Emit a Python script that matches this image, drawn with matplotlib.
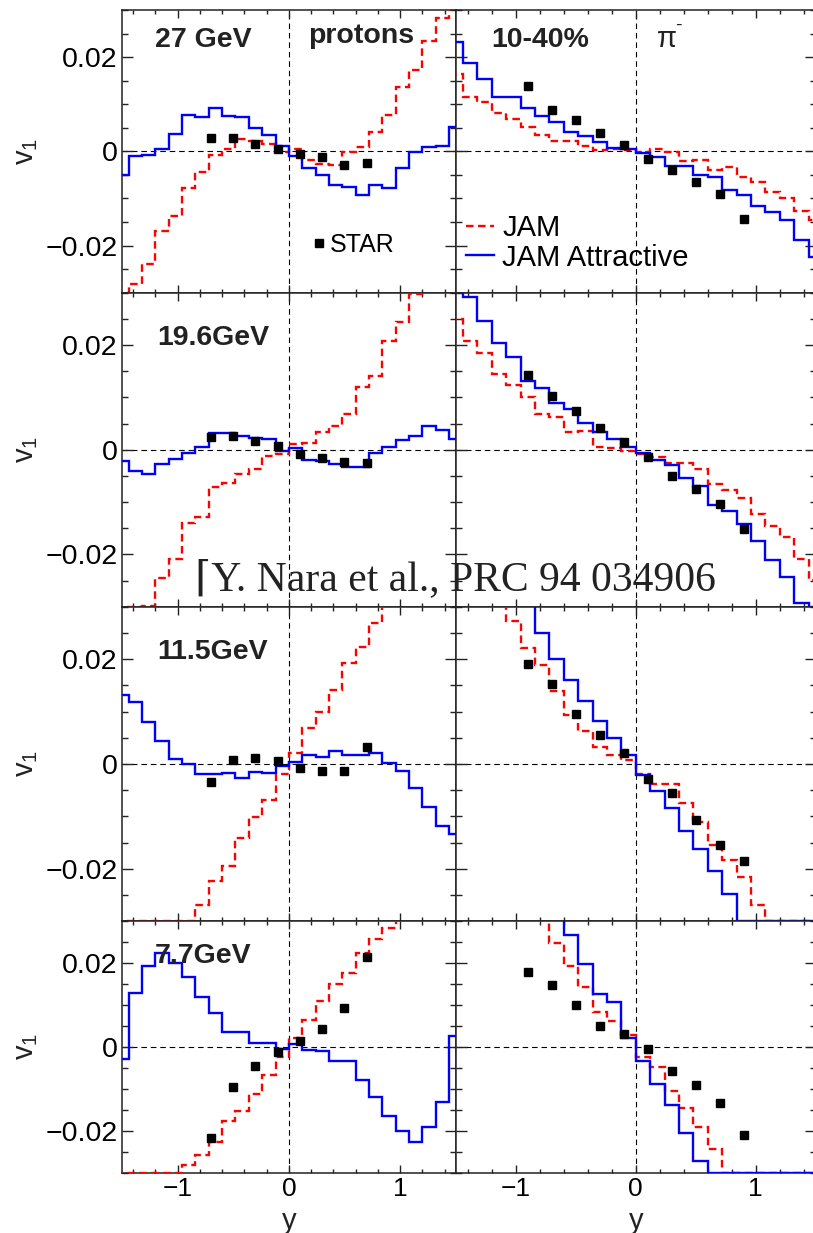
import numpy as np
import matplotlib.pyplot as plt
from matplotlib.lines import Line2D
from matplotlib.ticker import MultipleLocator, FixedLocator, FixedFormatter

plt.rcParams['font.family'] = ['Liberation Sans', 'DejaVu Sans']
plt.rcParams['mathtext.default'] = 'regular'

# bin edges of the model histograms (rapidity y)
edges = np.linspace(-1.56, 1.56, 27)
y_prot = [-0.7, -0.5, -0.3, -0.1, 0.1, 0.3, 0.5, 0.7]
y_pion = [-0.9, -0.7, -0.5, -0.3, -0.1, 0.1, 0.3, 0.5, 0.7, 0.9]

energies = ['27 GeV', '19.6GeV', '11.5GeV', '7.7GeV']

# ---- 27 GeV
jam_p27 = [-0.0300, -0.0282, -0.0239, -0.0170, -0.0137, -0.0078, -0.0044, -0.0007, 0.0004, 0.0027,
           0.0023, 0.0016, -0.0001, 0.0004, -0.0019, -0.0026, -0.0028, -0.0001, 0.0009, 0.0042,
           0.0078, 0.0137, 0.0172, 0.0234, 0.0282, 0.0310]
att_p27 = [-0.0051, -0.0010, -0.0008, 0.0004, 0.0037, 0.0078, 0.0073, 0.0093, 0.0074, 0.0072,
           0.0050, 0.0034, 0.0012, -0.0010, -0.0035, -0.0051, -0.0072, -0.0075, -0.0093, -0.0071,
           -0.0078, -0.0036, -0.0002, 0.0009, 0.0012, 0.0051]
star_p27 = [0.0029, 0.0029, 0.0016, 0.0005, -0.0005, -0.0013, -0.0028, -0.0025]
jam_pi27 = [0.0165, 0.0115, 0.0105, 0.0081, 0.0069, 0.0052, 0.0034, 0.0021, 0.0023, 0.0011,
            0.0002, 0.0006, 0.0002, -0.0001, 0.0004, -0.0001, -0.0021, -0.0019, -0.0039, -0.0033,
            -0.0054, -0.0065, -0.0086, -0.0100, -0.0127, -0.0146]
att_pi27 = [0.0232, 0.0188, 0.0154, 0.0115, 0.0115, 0.0091, 0.0075, 0.0062, 0.0041, 0.0033,
            0.0020, 0.0007, 0.0004, -0.0003, -0.0012, -0.0031, -0.0031, -0.0051, -0.0054, -0.0083,
            -0.0093, -0.0115, -0.0129, -0.0146, -0.0189, -0.0224]
star_pi27 = [0.0139, 0.0088, 0.0067, 0.0038, 0.0014, -0.0016, -0.0039, -0.0066, -0.0091, -0.0144]

# ---- 19.6 GeV
jam_p19 = [-0.0310, -0.0310, -0.0299, -0.0246, -0.0208, -0.0141, -0.0128, -0.0072, -0.0063, -0.0047,
           -0.0036, -0.0012, -0.0009, 0.0010, 0.0013, 0.0034, 0.0046, 0.0069, 0.0119, 0.0140,
           0.0208, 0.0244, 0.0297, 0.0320, 0.0340, 0.0350]
att_p19 = [-0.0022, -0.0040, -0.0046, -0.0027, -0.0017, -0.0006, 0.0005, 0.0032, 0.0032, 0.0026,
           0.0022, 0.0021, -0.0003, 0.0004, -0.0020, -0.0022, -0.0028, -0.0033, -0.0034, -0.0006,
           0.0005, 0.0018, 0.0026, 0.0046, 0.0038, 0.0020]
star_p19 = [0.0024, 0.0026, 0.0017, 0.0007, -0.0008, -0.0016, -0.0024, -0.0025]
jam_pi19 = [0.0250, 0.0207, 0.0184, 0.0145, 0.0124, 0.0100, 0.0069, 0.0062, 0.0034, 0.0036,
            0.0006, 0.0004, -0.0003, -0.0009, -0.0014, -0.0025, -0.0025, -0.0037, -0.0066, -0.0077,
            -0.0092, -0.0122, -0.0146, -0.0166, -0.0208, -0.0249]
att_pi19 = [0.0330, 0.0292, 0.0246, 0.0203, 0.0178, 0.0132, 0.0118, 0.0090, 0.0078, 0.0051,
            0.0034, 0.0021, 0.0005, -0.0006, -0.0020, -0.0030, -0.0055, -0.0070, -0.0106, -0.0117,
            -0.0142, -0.0174, -0.0211, -0.0244, -0.0293, -0.0310]
star_pi19 = [0.0143, 0.0103, 0.0073, 0.0042, 0.0015, -0.0014, -0.0050, -0.0076, -0.0103, -0.0152]

# ---- 11.5 GeV
jam_p11 = [-0.0310, -0.0310, -0.0310, -0.0310, -0.0310, -0.0310, -0.0269, -0.0224, -0.0195, -0.0141,
           -0.0101, -0.0069, -0.0020, 0.0020, 0.0068, 0.0099, 0.0141, 0.0193, 0.0224, 0.0268,
           0.0330, 0.0340, 0.0350, 0.0360, 0.0370, 0.0380]
att_p11 = [0.0131, 0.0118, 0.0080, 0.0044, 0.0010, -0.0001, -0.0020, -0.0019, -0.0017, -0.0027,
           -0.0015, -0.0018, -0.0003, 0.0003, 0.0017, 0.0013, 0.0025, 0.0017, 0.0018, 0.0020,
           0.0002, -0.0013, -0.0045, -0.0082, -0.0119, -0.0133]
star_p11 = [-0.0034, 0.0008, 0.0011, 0.0006, -0.0008, -0.0013, -0.0013, 0.0032]
jam_pi11 = [0.0360, 0.0340, 0.0320, 0.0310, 0.0273, 0.0222, 0.0188, 0.0139, 0.0093, 0.0063,
            0.0032, 0.0017, 0.0008, -0.0020, -0.0039, -0.0039, -0.0075, -0.0111, -0.0154, -0.0183,
            -0.0215, -0.0269, -0.0310, -0.0310, -0.0310, -0.0310]
att_pi11 = [0.0400, 0.0380, 0.0360, 0.0340, 0.0320, 0.0310, 0.0250, 0.0201, 0.0160, 0.0120,
            0.0082, 0.0050, 0.0017, -0.0022, -0.0052, -0.0084, -0.0127, -0.0163, -0.0204, -0.0248,
            -0.0310, -0.0310, -0.0310, -0.0310, -0.0310, -0.0310]
star_pi11 = [0.0190, 0.0152, 0.0096, 0.0055, 0.0020, -0.0028, -0.0055, -0.0106, -0.0154, -0.0186]

# ---- 7.7 GeV
jam_p7 = [-0.0310, -0.0310, -0.0310, -0.0310, -0.0310, -0.0282, -0.0257, -0.0226, -0.0177, -0.0153,
          -0.0112, -0.0067, -0.0023, 0.0022, 0.0065, 0.0110, 0.0150, 0.0176, 0.0225, 0.0258,
          0.0284, 0.0320, 0.0330, 0.0340, 0.0350, 0.0360]
att_p7 = [-0.0029, 0.0128, 0.0192, 0.0225, 0.0200, 0.0166, 0.0118, 0.0080, 0.0035, 0.0035,
          0.0010, 0.0009, -0.0005, 0.0008, -0.0007, -0.0010, -0.0033, -0.0033, -0.0078, -0.0119,
          -0.0165, -0.0201, -0.0226, -0.0192, -0.0131, 0.0027]
star_p7 = [-0.0217, -0.0095, -0.0045, -0.0013, 0.0014, 0.0043, 0.0093, 0.0214]
jam_pi7 = [0.0400, 0.0390, 0.0380, 0.0370, 0.0350, 0.0330, 0.0310, 0.0248, 0.0192, 0.0143,
           0.0083, 0.0061, 0.0029, -0.0023, -0.0049, -0.0104, -0.0145, -0.0192, -0.0243, -0.0310,
           -0.0310, -0.0310, -0.0310, -0.0310, -0.0310, -0.0310]
att_pi7 = [0.0420, 0.0410, 0.0400, 0.0390, 0.0380, 0.0360, 0.0340, 0.0320, 0.0268, 0.0198,
           0.0126, 0.0108, 0.0021, -0.0033, -0.0088, -0.0139, -0.0206, -0.0272, -0.0310, -0.0310,
           -0.0310, -0.0310, -0.0310, -0.0310, -0.0310, -0.0310]
star_pi7 = [0.0178, 0.0148, 0.0099, 0.0049, 0.0031, -0.0006, -0.0057, -0.0091, -0.0133, -0.0209]

prot_jam = [jam_p27, jam_p19, jam_p11, jam_p7]
prot_att = [att_p27, att_p19, att_p11, att_p7]
prot_star = [star_p27, star_p19, star_p11, star_p7]
pion_jam = [jam_pi27, jam_pi19, jam_pi11, jam_pi7]
pion_att = [att_pi27, att_pi19, att_pi11, att_pi7]
pion_star = [star_pi27, star_pi19, star_pi11, star_pi7]

ymin, ymax = -0.03, 0.03
W, H = 813, 1233
fig = plt.figure(figsize=(W / 100, H / 100), dpi=100)

# pixel layout of the pads
rows = [(10, 292.7), (292.7, 606.7), (606.7, 921.2), (921.2, 1172.7)]
cols = [(122, 333.7), (455.7, 360)]

red_ls = (0, (3.2, 1.9))
zero_ls = (0, (5, 3.5))

axes = []
for r, (yt, yb) in enumerate(rows):
    row_axes = []
    for c, (x0, w) in enumerate(cols):
        ax = fig.add_axes([x0 / W, 1 - yb / H, w / W, (yb - yt) / H])
        if c == 0:
            jam, att, star, xs = prot_jam[r], prot_att[r], prot_star[r], y_prot
        else:
            jam, att, star, xs = pion_jam[r], pion_att[r], pion_star[r], y_pion
        # like ROOT, underflowing bins are drawn on the frame
        ax.stairs(np.maximum(jam, ymin), edges, baseline=None, color='red',
                  lw=1.7, ls=red_ls, zorder=2.6)
        ax.stairs(np.maximum(att, ymin), edges, baseline=None, color='blue',
                  lw=1.7, zorder=2.7)
        ax.plot(xs, star, 's', color='black', ms=6, zorder=3, label='STAR')
        ax.axhline(0, color='black', lw=0.8, ls=zero_ls, zorder=1)
        ax.axvline(0, color='black', lw=0.8, ls=zero_ls, zorder=1)
        ax.set_xlim(-1.5, 1.5)
        ax.set_ylim(ymin, ymax)
        ax.xaxis.set_major_locator(FixedLocator([-1, 0, 1]))
        ax.xaxis.set_minor_locator(MultipleLocator(0.2))
        ax.yaxis.set_major_locator(FixedLocator([-0.02, 0, 0.02]))
        ax.yaxis.set_minor_locator(MultipleLocator(0.005))
        ax.tick_params(which='both', direction='in', top=True, right=True,
                       width=1.0, color='#222222')
        ax.tick_params(axis='y', which='major', length=8, pad=3, labelsize=20.5)
        ax.tick_params(axis='y', which='minor', length=4.3)
        ax.tick_params(axis='x', which='major', length=5.8, pad=3, labelsize=19)
        ax.tick_params(axis='x', which='minor', length=3)
        if c == 0:
            ax.yaxis.set_major_formatter(FixedFormatter(['\u22120.02', '0', '0.02']))
            ax.set_ylabel('v$_1$', fontsize=21, color='#222222')
            ax.yaxis.set_label_coords(-0.245, 0.5)
        else:
            ax.set_yticklabels([])
        if r == len(rows) - 1:
            ax.xaxis.set_major_formatter(FixedFormatter(['\u22121', '0', '1']))
            ax.set_xlabel('y', fontsize=21, color='#222222')
            ax.xaxis.set_label_coords(0.5, -0.135)
        else:
            ax.set_xticklabels([])
        for s in ax.spines.values():
            s.set_linewidth(1.1)
            s.set_color('#222222')
        row_axes.append(ax)
    axes.append(row_axes)

# legends
h_star = axes[0][0].lines[0]
axes[0][0].legend(handles=[h_star], labels=['STAR'], loc='center left',
                  bbox_to_anchor=(0.571, 0.169), frameon=False, fontsize=18,
                  handlelength=0.5, handletextpad=0.2, borderaxespad=0, borderpad=0)
h_jam = Line2D([], [], color='red', lw=1.7, ls=red_ls)
h_att = Line2D([], [], color='blue', lw=1.7)
axes[0][1].legend(handles=[h_jam, h_att], labels=['JAM', 'JAM Attractive'],
                  loc='center left', bbox_to_anchor=(0.0286, 0.176), frameon=False,
                  fontsize=21, handlelength=0.95, handletextpad=0.3,
                  labelspacing=0.05, borderaxespad=0, borderpad=0)


def ftext(x, y, s, **kw):
    fig.text(x / W, 1 - y / H, s, va='baseline', color='#222222', **kw)


label_pos = [(155, 46.7), (157, 345), (157, 659), (155, 963)]
for (lx, ly), lab in zip(label_pos, energies):
    ftext(lx, ly, lab, fontsize=20.5, fontweight='bold')
ftext(308, 43, 'protons', fontsize=20.5, fontweight='bold')
ftext(491.7, 46.7, '10-40%', fontsize=20.5, fontweight='bold')
ftext(657, 46.7, '\u03c0', fontsize=21)
ftext(675, 30, '-', fontsize=14)
ftext(195, 590, '\u2308Y. Nara et al., PRC 94 034906', fontsize=30,
      family=['Liberation Serif', 'DejaVu Serif'])

fig.savefig('out.png', dpi=100)
